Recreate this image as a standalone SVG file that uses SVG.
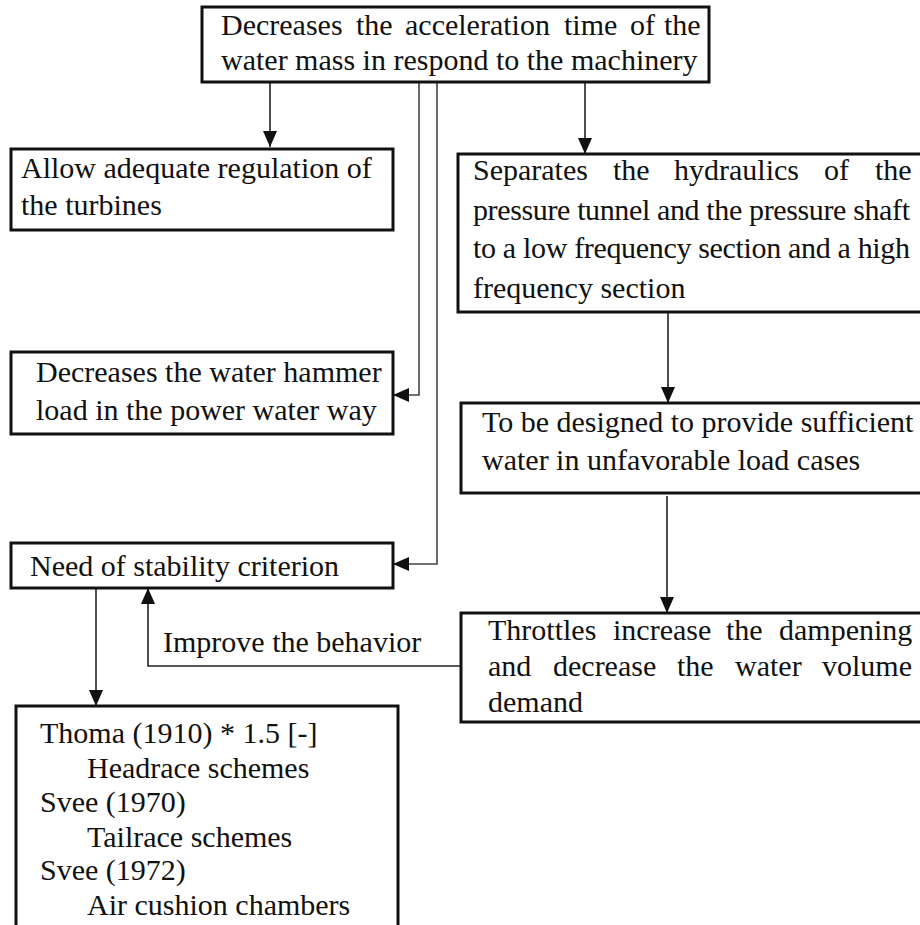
<svg xmlns="http://www.w3.org/2000/svg" width="920" height="925" viewBox="0 0 920 925">
<defs>
<style>
.box{fill:#fff;stroke:#111;stroke-width:3}
text{font-family:'Liberation Serif','Times New Roman',Tinos,'DejaVu Serif',serif;font-size:30px;fill:#111}
.c{fill:none;stroke:#222;stroke-width:1.6}
.g{fill:none;stroke:#444;stroke-width:1.6}
</style>
<marker id="ah" markerUnits="userSpaceOnUse" markerWidth="16" markerHeight="14" refX="16" refY="7" orient="auto">
<path d="M0,0 L16,7 L0,14 Z" fill="#111"/>
</marker>
</defs>
<rect width="920" height="925" fill="#fff"/>
<g id="connectors">
<path class="c" d="M270,82 V147" marker-end="url(#ah)"/>
<path class="c" d="M585,82 V154" marker-end="url(#ah)"/>
<path class="g" d="M419,82 V395 H393" marker-end="url(#ah)"/>
<path class="g" d="M437,82 V564 H393" marker-end="url(#ah)"/>
<path class="c" d="M668,312 V403" marker-end="url(#ah)"/>
<path class="c" d="M667,496 V613" marker-end="url(#ah)"/>
<path class="c" d="M96,588 V706" marker-end="url(#ah)"/>
<path class="c" d="M461,666 H148 V588" marker-end="url(#ah)"/>
<text x="163" y="652">Improve the behavior</text>
</g>
<g id="n-top">
<rect class="box" x="202" y="7" width="507" height="75"/>
<text y="35"><tspan x="221">Decreases</tspan><tspan x="356">the</tspan><tspan x="405">acceleration</tspan><tspan x="564">time</tspan><tspan x="630">of</tspan><tspan x="664">the</tspan></text>
<text x="221" y="70">water mass in respond to the machinery</text>
</g>
<g id="n-allow">
<rect class="box" x="11" y="149" width="382" height="81"/>
<text x="21" y="178">Allow adequate regulation of</text>
<text x="21" y="215">the turbines</text>
</g>
<g id="n-separates">
<rect class="box" x="458" y="154" width="470" height="158"/>
<text y="180"><tspan x="473">Separates</tspan><tspan x="613">the</tspan><tspan x="674">hydraulics</tspan><tspan x="824">of</tspan><tspan x="875">the</tspan></text>
<text x="473" y="220" textLength="437" lengthAdjust="spacing">pressure tunnel and the pressure shaft</text>
<text x="473" y="258" textLength="437" lengthAdjust="spacing">to a low frequency section and a high</text>
<text x="473" y="298">frequency section</text>
</g>
<g id="n-hammer">
<rect class="box" x="11" y="352" width="382" height="82"/>
<text x="36" y="382">Decreases the water hammer</text>
<text x="36" y="420">load in the power water way</text>
</g>
<g id="n-designed">
<rect class="box" x="461" y="403" width="467" height="90"/>
<text x="482" y="432">To be designed to provide sufficient</text>
<text x="482" y="470">water in unfavorable load cases</text>
</g>
<g id="n-need">
<rect class="box" x="11" y="543" width="382" height="45"/>
<text x="30" y="576">Need of stability criterion</text>
</g>
<g id="n-throttles">
<rect class="box" x="461" y="613" width="467" height="109"/>
<text y="640"><tspan x="488">Throttles</tspan><tspan x="613">increase</tspan><tspan x="726">the</tspan><tspan x="779">dampening</tspan></text>
<text y="676"><tspan x="488">and</tspan><tspan x="553">decrease</tspan><tspan x="677">the</tspan><tspan x="735">water</tspan><tspan x="822">volume</tspan></text>
<text x="488" y="712">demand</text>
</g>
<g id="n-thoma">
<rect class="box" x="16" y="706" width="382" height="230"/>
<text x="40" y="743">Thoma (1910) * 1.5 [-]</text>
<text x="87" y="778">Headrace schemes</text>
<text x="40" y="812">Svee (1970)</text>
<text x="87" y="847">Tailrace schemes</text>
<text x="40" y="880">Svee (1972)</text>
<text x="87" y="915">Air cushion chambers</text>
</g>
</svg>
